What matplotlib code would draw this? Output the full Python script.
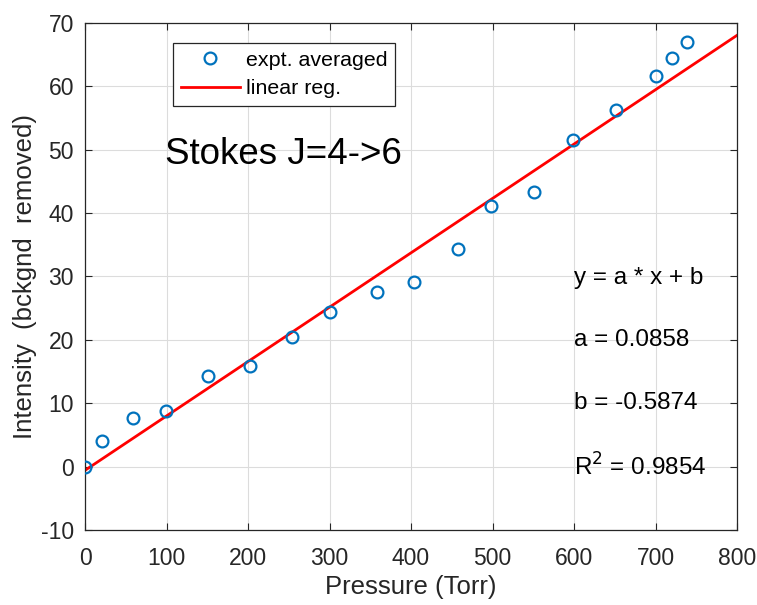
import numpy as np
import matplotlib.pyplot as plt

plt.rcParams['font.family'] = ['Liberation Sans', 'DejaVu Sans']
plt.rcParams['axes.unicode_minus'] = False

# averaged measurements
pressure = [0, 21, 59, 99, 151, 202, 254, 301, 358, 404, 458, 498, 551, 599, 651, 701, 720, 739]
intensity = [0.0, 4.0, 7.6, 8.8, 14.3, 15.8, 20.5, 24.4, 27.5, 29.2, 34.4, 41.1, 43.4, 51.6, 56.3, 61.6, 64.5, 67.0]

# fit coefficients
a = 0.0858
b = -0.5874
r2 = 0.9854
fit_x = [0, 800]

fig = plt.figure(figsize=(7.57, 6.05), dpi=100)
ax = fig.add_axes([0.1123, 0.124, 0.8613, 0.838])

fit_y = [a * x + b for x in fit_x]
ax.plot(pressure, intensity, 'o', markerfacecolor='none', markeredgecolor='#0072BD',
        markersize=8.5, markeredgewidth=1.6, label='expt. averaged', zorder=3)
ax.plot(fit_x, fit_y, color='red', linewidth=2.0, label='linear reg.', zorder=2)

ax.set_xlim(0, 800)
ax.set_ylim(-10, 70)
ax.set_xticks(np.arange(0, 801, 100))
ax.set_yticks(np.arange(-10, 71, 10))
ax.grid(True, color='#dcdcdc', linewidth=0.8)
ax.set_axisbelow(True)
ax.tick_params(direction='in', top=True, right=True, labelsize=16.5,
               colors='#262626', length=5, width=0.8)
ax.tick_params(axis='x', pad=12)
ax.tick_params(axis='y', pad=8)
for s in ax.spines.values():
    s.set_color('#262626')
    s.set_linewidth(0.9)

ax.set_xlabel('Pressure (Torr)', fontsize=18.5, color='#262626', labelpad=4)
ax.set_ylabel('Intensity  (bckgnd  removed)', fontsize=18.5, color='#262626', labelpad=3)

ax.text(98, 49.2, 'Stokes J=4->6', fontsize=26.5, va='center', ha='left')
ax.text(600, 29.8, 'y = a * x + b', fontsize=17.5, va='center')
ax.text(600, 20, f'a = {a:.4f}', fontsize=17.5, va='center')
ax.text(600, 10, f'b = {b:.4f}', fontsize=17.5, va='center')
ax.text(600, 0, f'R$^2$ = {r2:.4f}', fontsize=17.5, va='center')

leg = ax.legend(loc='upper left', bbox_to_anchor=(0.135, 0.96), fontsize=15.4,
                fancybox=False, framealpha=1, edgecolor='#262626',
                borderpad=0.35, labelspacing=0.45, handlelength=2.8, handletextpad=0.25,
                borderaxespad=0)
leg.get_frame().set_linewidth(0.9)

fig.savefig('out.png', dpi=100)
